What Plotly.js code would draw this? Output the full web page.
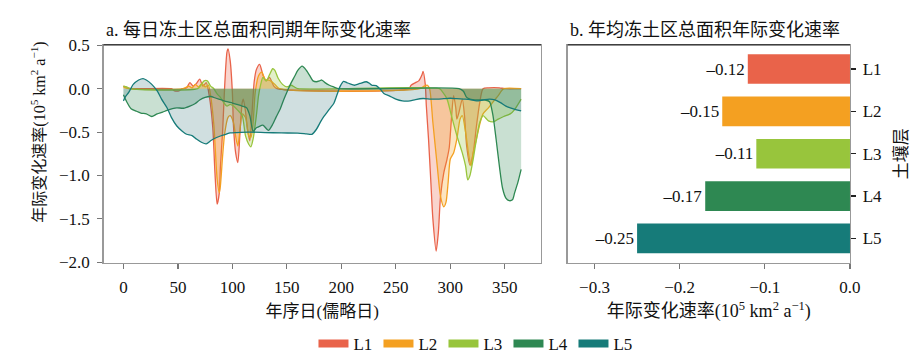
<!DOCTYPE html>
<html><head><meta charset="utf-8">
<script src="https://cdn.plot.ly/plotly-3.0.1.min.js"></script>
<style>html,body{margin:0;padding:0;background:#fff}#chart{width:922px;height:362px}</style>
</head><body><div id="chart"></div>
<script>
// ---------- data ----------
const layers = ['L1', 'L2', 'L3', 'L4', 'L5'];
const annualRate = [-0.12, -0.15, -0.11, -0.17, -0.25];
const dayTicks = [0, 50, 100, 150, 200, 250, 300, 350];

const L1_days = [0,4,8,44,47,51,54,58,61,64,67,70,73,76,79,82,84,86,88,89,91,93,95,96,98,100,101,103,105,107,109,110,112,114,116,118,120,122,125,128,131,134,138,141,262,264,268,271,274,275,277,278,280,282,284,287,289,291,294,297,299,301,303,305,306,308,311,313,315,318,321,324,327,330,335,345,350,365];
const L1_vals = [0.03,0.01,0,0,-0.025,-0.025,0,0.01,0.07,0.03,0.06,0.11,0.03,0.07,-0.1,-0.45,-0.97,-1.33,-1.2,-0.9,-0.5,0.05,0.42,0.46,0.32,-0.05,-0.43,-0.74,-0.85,-0.5,-0.16,-0.12,-0.26,-0.48,-0.6,-0.28,0.08,0.22,0.28,0.16,0.09,0.13,0.03,0,0,0.04,0.07,0.09,0.16,0.2,0.05,-0.2,-0.58,-1.04,-1.5,-1.87,-1.66,-1.24,-0.97,-0.81,-0.68,-0.35,-0.08,-0.22,-0.35,-0.27,-0.12,-0.31,-0.66,-0.88,-0.74,-0.43,-0.16,0,0.01,0.01,0,0];

const L2_days = [0,5,55,60,63,66,69,72,75,78,80,83,86,88,89,91,93,96,98,101,103,105,107,109,112,115,117,119,121,124,127,130,135,139,143,272,276,279,281,284,288,291,294,296,298,300,303,306,309,311,314,317,319,321,324,327,330,335,340,344,349,365];
const L2_vals = [0.02,0,0,0.03,0.01,0.05,0.02,0.06,0.02,0.04,-0.08,-0.42,-1.04,-1.2,-1.12,-0.78,-0.51,-0.33,-0.31,-0.39,-0.55,-0.66,-0.47,-0.29,-0.33,-0.54,-0.56,-0.39,-0.04,0.15,0.19,0.11,0.09,0.05,0,0,0.03,0.04,0,-0.39,-0.89,-1.24,-1.36,-1.31,-1.08,-0.81,-0.74,-0.58,-0.35,-0.31,-0.5,-0.77,-0.89,-0.74,-0.58,-0.41,-0.29,-0.22,-0.14,-0.08,0,0];

const L3_days = [0,3,6,68,71,74,77,80,83,86,89,92,95,98,101,105,109,112,115,117,119,122,124,126,128,131,134,137,139,142,146,150,154,157,160,290,293,297,301,306,311,314,316,318,321,324,327,330,335,340,344,349,355,359,365];
const L3_vals = [0.03,0.02,0,0,0.04,0.09,0.09,0.03,0,-0.06,-0.1,-0.16,-0.2,-0.18,-0.2,-0.25,-0.31,-0.54,-0.64,-0.67,-0.58,-0.31,-0.08,0.05,0.13,0.09,0.16,0.23,0.21,0.12,0.05,0.02,0.04,0.02,0,0,-0.04,-0.12,-0.31,-0.54,-0.74,-0.89,-1.05,-1.0,-0.81,-0.58,-0.39,-0.31,-0.37,-0.38,-0.35,-0.32,-0.29,-0.24,-0.12];

const L4_days = [0,3,7,12,16,21,26,31,36,40,45,49,55,61,66,70,75,80,85,90,95,100,104,109,113,116,119,122,124,128,133,137,140,144,147,150,154,157,160,164,168,171,174,177,180,182,185,189,193,198,308,312,315,318,325,332,336,339,342,345,348,351,354,357,359,362,365];
const L4_vals = [-0.07,-0.15,-0.23,-0.26,-0.28,-0.29,-0.32,-0.29,-0.27,-0.25,-0.23,-0.22,-0.225,-0.2,-0.17,-0.13,-0.1,-0.09,-0.11,-0.13,-0.15,-0.165,-0.18,-0.2,-0.22,-0.31,-0.49,-0.45,-0.44,-0.42,-0.48,-0.41,-0.33,-0.23,-0.13,-0.04,0.07,0.14,0.21,0.26,0.21,0.15,0.09,0.08,0.09,0.1,0.07,0.04,0.02,0,0,-0.03,-0.1,-0.12,-0.13,-0.13,-0.15,-0.3,-0.58,-0.89,-1.15,-1.26,-1.29,-1.28,-1.2,-1.08,-0.93];

const L5_days = [0,2,5,9,14,18,21,26,31,35,40,44,49,54,58,63,67,72,76,80,85,89,94,98,104,115,130,145,160,168,173,177,181,184,187,190,193,196,199,202,205,208,212,217,223,226,228,232,236,239,244,250,256,263,268,275,282,288,294,300,306,312,318,324,330,336,341,346,351,355,360,365];
const L5_vals = [-0.14,-0.09,-0.04,0.05,0.1,0.117,0.1,0.05,-0.025,-0.12,-0.22,-0.33,-0.43,-0.49,-0.525,-0.54,-0.58,-0.62,-0.635,-0.6,-0.565,-0.545,-0.525,-0.51,-0.505,-0.5,-0.505,-0.51,-0.512,-0.52,-0.525,-0.47,-0.38,-0.32,-0.27,-0.22,-0.17,-0.07,0.03,0.085,0.07,0.055,0.04,0.06,0.08,0.06,0.04,0.035,-0.01,-0.055,-0.083,-0.12,-0.14,-0.14,-0.125,-0.113,-0.12,-0.12,-0.115,-0.11,-0.115,-0.12,-0.125,-0.14,-0.13,-0.12,-0.13,-0.16,-0.2,-0.22,-0.24,-0.256];

// ---------- styles ----------
const colors = ['#E9634A', '#F4A021', '#98C53C', '#2E8852', '#167B79'];
const fills = ['rgba(233,99,74,0.28)', 'rgba(244,160,33,0.28)', 'rgba(152,197,60,0.28)', 'rgba(46,136,82,0.26)', 'rgba(40,110,112,0.22)'];
const FONT = '"Liberation Serif", "Noto Sans CJK SC", serif';

const seriesDays = [L1_days, L2_days, L3_days, L4_days, L5_days];
const seriesVals = [L1_vals, L2_vals, L3_vals, L4_vals, L5_vals];

const traces = [];
for (let i = 0; i < layers.length; i++) {
  traces.push({
    type: 'scatter', mode: 'lines', x: seriesDays[i], y: seriesVals[i],
    line: {color: colors[i], width: 1.3, shape: 'spline', smoothing: 0.7},
    fill: 'tozeroy', fillcolor: fills[i],
    xaxis: 'x', yaxis: 'y', showlegend: false, hoverinfo: 'skip'
  });
}
// legend entries
for (let i = 0; i < layers.length; i++) {
  traces.push({
    type: 'scatter', mode: 'lines', x: [null], y: [null], name: layers[i],
    line: {color: colors[i], width: 8}, xaxis: 'x', yaxis: 'y', showlegend: true
  });
}
// bars
traces.push({
  type: 'bar', orientation: 'h', x: annualRate, y: layers,
  marker: {color: colors}, width: 0.7,
  text: annualRate.map(v => (v < 0 ? '\u2013' : '') + Math.abs(v).toFixed(2)),
  textposition: 'outside', cliponaxis: false,
  textfont: {family: FONT, size: 17, color: '#111'},
  xaxis: 'x2', yaxis: 'y2', showlegend: false
});

const axisCommon = {
  showgrid: false, zeroline: false, showline: true, linecolor: '#999', linewidth: 1.3,
  mirror: true, ticks: 'outside', ticklen: 5, tickcolor: '#777', tickwidth: 1.2,
  tickfont: {family: FONT, size: 17, color: '#111'}
};
const yDom = [0.2727, 0.8757];
const rateTitle = '年际变化速率(10<sup>5</sup> km<sup>2</sup> a<sup>\u22121</sup>)';

const layout = {
  width: 922, height: 362,
  margin: {l: 0, r: 0, t: 0, b: 0},
  paper_bgcolor: '#fff', plot_bgcolor: '#fff',
  font: {family: FONT, size: 17, color: '#111'},
  showlegend: true,
  legend: {orientation: 'h', x: 0.340, xanchor: 'left', y: 0.047, yanchor: 'middle',
           entrywidth: 20, font: {family: FONT, size: 17, color: '#111'}, bgcolor: 'rgba(0,0,0,0)'},
  xaxis: Object.assign({}, axisCommon, {
    domain: [0.1123, 0.5868], range: [-18.25, 383.25], tickvals: dayTicks,
    anchor: 'y', ticklabelstandoff: 4,
    title: {text: '年序日(儒略日)', font: {family: FONT, size: 17, color: '#111'}, standoff: 8}
  }),
  yaxis: Object.assign({}, axisCommon, {
    domain: yDom, range: [-2.003, 0.505], tick0: 0, dtick: 0.5, tickformat: '.1f',
    anchor: 'x', ticklabelstandoff: 4
  }),
  xaxis2: Object.assign({}, axisCommon, {
    domain: [0.6157, 0.9219], range: [-0.3315, 0], tick0: 0, dtick: 0.1, tickformat: '.1f',
    anchor: 'y2', ticklabelstandoff: 4,
    title: {text: rateTitle, font: {family: FONT, size: 18, color: '#111'}, standoff: 8}
  }),
  yaxis2: Object.assign({}, axisCommon, {
    domain: yDom, anchor: 'x2', side: 'right', type: 'category',
    range: [4.57, -0.57], tickcolor: '#222', ticklabelstandoff: 3,
    title: {text: '土壤层', font: {family: FONT, size: 17, color: '#111'}, standoff: 14}
  }),
  yaxis3: {
    overlaying: 'y2', anchor: 'x2', side: 'left', range: [4.57, -0.57],
    tickvals: [0.5, 1.5, 2.5, 3.5], showticklabels: false, ticks: 'outside', ticklen: 4,
    tickcolor: '#888', showgrid: false, zeroline: false, showline: false
  },
  shapes: [
    {type: 'line', xref: 'x domain', yref: 'y domain', x0: 0, x1: 1, y0: 1, y1: 1, line: {color: '#222', width: 1.3}},
    {type: 'line', xref: 'x2 domain', yref: 'y2 domain', x0: 0, x1: 1, y0: 1, y1: 1, line: {color: '#222', width: 1.3}}
  ],
  annotations: [
    {text: 'a. 每日冻土区总面积同期年际变化速率', xref: 'paper', yref: 'paper', x: 0.1128, y: 0.917,
     xanchor: 'left', yanchor: 'middle', showarrow: false, font: {family: FONT, size: 18, color: '#111'}},
    {text: 'b. 年均冻土区总面积年际变化速率', xref: 'paper', yref: 'paper', x: 0.616, y: 0.917,
     xanchor: 'left', yanchor: 'middle', showarrow: false, font: {family: FONT, size: 18, color: '#111'}},
    {text: rateTitle, xref: 'paper', yref: 'paper', x: 0.0423, y: 0.6326, textangle: -90,
     xanchor: 'center', yanchor: 'middle', showarrow: false, font: {family: FONT, size: 16, color: '#111'}}
  ]
};

Plotly.newPlot('chart', traces, layout, {displayModeBar: false, staticPlot: true});
</script>
</body></html>
